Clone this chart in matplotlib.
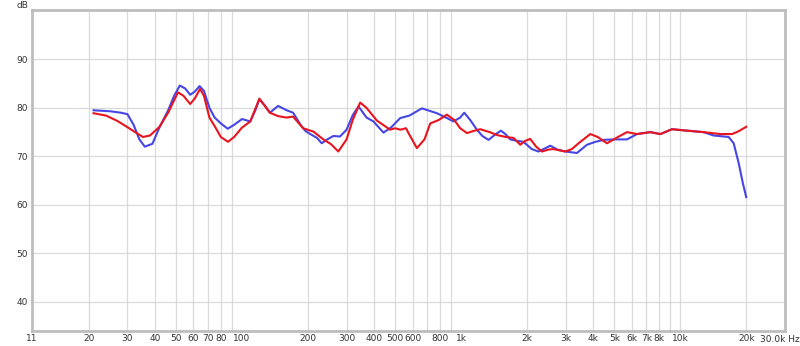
import numpy as np
import matplotlib
matplotlib.use("Agg")
import matplotlib.pyplot as plt

# frequency response, two measurements
blue_f = [21, 25, 28, 30, 32, 34, 36, 39, 42, 46, 49, 52, 55, 58, 61, 64, 67, 71, 75, 80, 86, 92,
          100, 109, 115, 120, 127, 134, 146, 160, 171, 185, 195, 205, 220, 231, 245, 261, 280, 300,
          320, 340, 370, 398, 442, 480, 527, 580, 662, 775, 861, 923, 990, 1033, 1100, 1180, 1250,
          1334, 1430, 1519, 1600, 1675, 1800, 1927, 2100, 2256, 2400, 2551, 2750, 2988, 3377, 3753,
          4100, 4468, 5000, 5713, 6347, 7300, 8110, 9172, 10740, 12780, 14200, 16630, 17530, 18480,
          19300, 20000]
blue_db = [79.5, 79.3, 79.0, 78.7, 76.5, 73.5, 72.0, 72.6, 76.0, 79.5, 82.5, 84.6, 84.0, 82.7, 83.4,
           84.5, 83.5, 80.0, 78.0, 76.8, 75.7, 76.5, 77.7, 77.2, 79.5, 81.8, 80.5, 79.0, 80.4, 79.5,
           79.0, 76.5, 75.2, 74.6, 73.8, 72.7, 73.5, 74.2, 74.1, 75.5, 78.5, 80.3, 78.0, 77.2, 74.9,
           76.0, 77.9, 78.4, 79.9, 78.9, 77.9, 77.2, 78.0, 79.0, 77.5, 75.5, 74.2, 73.4, 74.5, 75.3,
           74.5, 73.5, 73.2, 73.0, 71.5, 71.0, 71.6, 72.2, 71.4, 71.0, 70.7, 72.4, 73.0, 73.4, 73.5,
           73.5, 74.6, 75.0, 74.6, 75.6, 75.3, 75.0, 74.3, 74.0, 72.7, 68.6, 64.5, 61.6]

red_f = [21, 24, 27, 29.8, 32.5, 35.3, 38, 42, 46, 51, 54, 58, 61, 64.3, 67, 71, 75.3, 80, 86.3, 92,
         99.8, 109, 120, 134, 146, 160, 171, 190, 212, 235, 255, 275, 300, 320, 346, 370, 412, 474,
         500, 527, 560, 580, 628, 680, 723, 790, 861, 930, 990, 1063, 1150, 1222, 1350, 1457, 1600,
         1734, 1861, 1960, 2067, 2200, 2338, 2500, 2641, 2988, 3200, 3434, 3885, 4200, 4631, 5200,
         5713, 6347, 7300, 8110, 9172, 10740, 12780, 15240, 17240, 18500, 20000]
red_db = [78.9, 78.4, 77.3, 76.1, 75.0, 74.0, 74.3, 76.1, 79.0, 83.2, 82.5, 80.8, 82.0, 83.9, 82.5,
          78.0, 76.1, 74.0, 73.0, 74.0, 75.9, 77.2, 81.9, 79.0, 78.3, 78.0, 78.2, 75.8, 75.1, 73.5,
          72.5, 71.0, 73.5, 77.5, 81.1, 80.0, 77.4, 75.5, 75.8, 75.5, 75.8, 74.5, 71.7, 73.5, 76.8,
          77.5, 78.6, 77.5, 75.8, 74.8, 75.3, 75.6, 75.0, 74.4, 74.0, 73.8, 72.4, 73.2, 73.6, 72.0,
          71.0, 71.4, 71.5, 71.0, 71.5, 72.7, 74.6, 74.0, 72.7, 74.0, 75.0, 74.6, 75.0, 74.6, 75.6,
          75.3, 75.0, 74.6, 74.6, 75.2, 76.1]

x_ticks = [11, 20, 30, 40, 50, 60, 70, 80, 100, 200, 300, 400, 500, 600, 800,
           1000, 2000, 3000, 4000, 5000, 6000, 7000, 8000, 10000, 20000]
x_labels = ["11", "20", "30", "40", "50", "60", "70", "80", "100", "200", "300", "400", "500", "600", "800",
            "1k", "2k", "3k", "4k", "5k", "6k", "7k", "8k", "10k", "20k"]
y_ticks = [40, 50, 60, 70, 80, 90]

grid_x = [f * m for m in (10, 100, 1000) for f in range(2, 10)] + [f * 10000 for f in (1, 2)]

fig = plt.figure(figsize=(8, 3.46), dpi=100)
ax = fig.add_axes([0.04, 0.0434, 0.941, 0.928])

for g in grid_x:
    ax.axvline(g, color="#dadada", lw=0.9, zorder=0)
for g in y_ticks:
    ax.axhline(g, color="#dadada", lw=0.9, zorder=0)

ax.plot(blue_f, blue_db, color="#4646e6", lw=1.5, zorder=3, solid_joinstyle="round")
ax.plot(red_f, red_db, color="#e8141e", lw=1.5, zorder=4, solid_joinstyle="round")

ax.set_xscale("log")
ax.set_xlim(11, 30000)
ax.set_ylim(34, 100.2)
ax.set_xticks(x_ticks)
ax.set_xticklabels(x_labels)
ax.xaxis.set_minor_locator(matplotlib.ticker.NullLocator())
ax.set_yticks(y_ticks)
ax.tick_params(length=0, labelsize=6.5, colors="#333333", pad=3)
ax.tick_params(axis="x", pad=2.5)

for s in ax.spines.values():
    s.set_color("#bdbdbd")
    s.set_linewidth(2)

fig.text(0.975, 0.0434 - 0.012, "30.0k Hz", fontsize=6.5, color="#333333", ha="center", va="top")
fig.text(0.028, 0.985, "dB", fontsize=6.5, color="#333333", ha="center", va="center")

fig.savefig("out.png", dpi=100, facecolor="white")
